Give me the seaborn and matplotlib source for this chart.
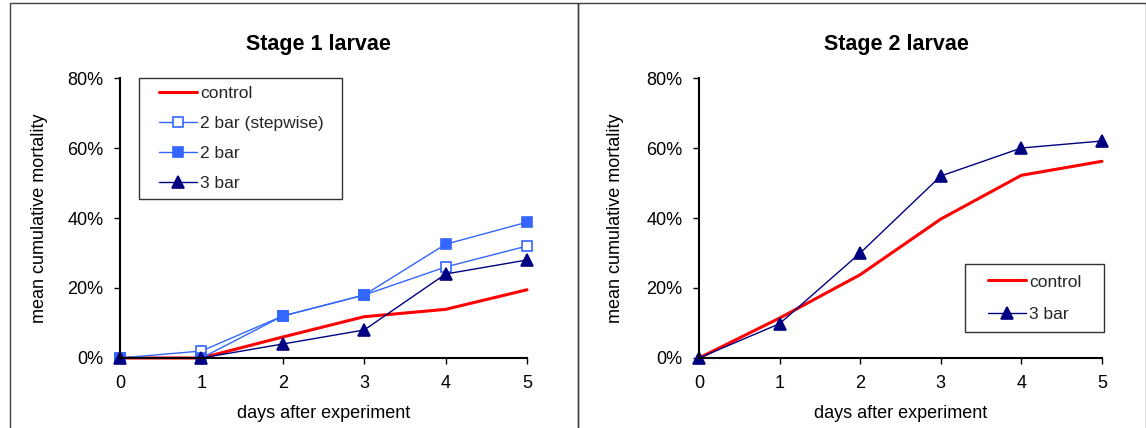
import matplotlib
matplotlib.use("Agg")
import matplotlib.pyplot as plt
import matplotlib.patches as mpatches
from matplotlib.lines import Line2D
from matplotlib.legend_handler import HandlerLine2D
import seaborn as sns
import pandas as pd
from matplotlib.ticker import PercentFormatter

days = [0, 1, 2, 3, 4, 5]
s1_control = [0, 0, 6, 11.8, 13.9, 19.5]
s1_2bar_step = [0, 2, 12, 18, 26, 32]
s1_2bar = [0, 0, 12, 18, 32.5, 38.8]
s1_3bar = [0, 0, 4, 8, 24, 28]
s2_control = [0, 11.4, 23.8, 39.7, 52.2, 56.2]
s2_3bar = [0, 9.8, 30, 52, 60, 62]

sns.set_theme(style="white")
plt.rcParams['font.family'] = ['Liberation Sans', 'DejaVu Sans']

W, H = 1146, 428
fig = plt.figure(figsize=(W / 100, H / 100), dpi=100)

# panel borders
for (x0, x1) in [(10, 578), (578, 1146)]:
    fig.patches.append(mpatches.Rectangle((x0 / W, -0.01), (x1 - x0) / W, (H - 3) / H + 0.01,
                                          transform=fig.transFigure, fill=False,
                                          edgecolor='#404040', linewidth=1.0))

ax1 = fig.add_axes([120 / W, 1 - 358 / H, (527 - 120) / W, (358 - 78) / H])
ax2 = fig.add_axes([699 / W, 1 - 358 / H, (1102 - 699) / W, (358 - 78) / H])

RED = '#FF0000'
BLUE = '#3366FF'
NAVY = '#000080'

def series(ax, y, label, color, lw, marker=None, mfc=None, ms=8):
    df = pd.DataFrame({'day': days, 'val': y})
    sns.lineplot(data=df, x='day', y='val', ax=ax, color=color, linewidth=lw,
                 marker=marker if marker else '', markersize=ms,
                 markerfacecolor=mfc if mfc else color, markeredgecolor=color,
                 markeredgewidth=1.2, label=label, clip_on=False)

series(ax1, s1_control, 'control', RED, 2.2)
series(ax1, s1_2bar_step, '2 bar (stepwise)', BLUE, 1.0, 's', 'white', 7.5)
series(ax1, s1_2bar, '2 bar', BLUE, 1.0, 's', BLUE, 7.5)
series(ax1, s1_3bar, '3 bar', NAVY, 1.0, '^', NAVY, 8)

series(ax2, s2_control, 'control', RED, 2.2)
series(ax2, s2_3bar, '3 bar', NAVY, 1.0, '^', NAVY, 8)

FS = 13
for ax, title, tx, ylx in [(ax1, 'Stage 1 larvae', 0.4865, -0.177),
                           (ax2, 'Stage 2 larvae', 0.489, -0.186)]:
    ax.set_xlim(0, 5)
    ax.set_ylim(0, 80)
    ax.set_xticks(days)
    ax.set_yticks([0, 20, 40, 60, 80])
    ax.yaxis.set_major_formatter(PercentFormatter(decimals=0))
    for s in ['top', 'right']:
        ax.spines[s].set_visible(False)
    for s in ['left', 'bottom']:
        ax.spines[s].set_color('black')
        ax.spines[s].set_linewidth(1.5)
    ax.tick_params(axis='both', which='major', direction='out', length=4, width=1,
                   color='black', labelsize=FS, labelcolor='black', bottom=True, left=True,
                   pad=8)
    ax.set_xlabel('days after experiment', fontsize=FS, color='black')
    ax.set_ylabel('mean cumulative mortality', fontsize=FS, color='black')
    ax.xaxis.set_label_coords(0.5, -0.169)
    ax.yaxis.set_label_coords(ylx, 0.5)
    ax.set_title(title, fontsize=15.5, fontweight='bold', color='black', pad=20, x=tx)
    ax.grid(False)
    ax.set_facecolor('white')

fs_leg = 12.5
leg1 = ax1.legend(loc='upper left', bbox_to_anchor=(139 / W, 1 - 78 / H, (342 - 139) / W, 0.0),
                  bbox_transform=fig.transFigure, mode='expand', borderaxespad=0,
                  fontsize=fs_leg, frameon=True,
                  fancybox=False, edgecolor='black', borderpad=0.45, labelspacing=0.85,
                  handlelength=2.87, handletextpad=0.2,
                  handler_map={Line2D: HandlerLine2D(xpad=0.69)})
leg1.get_frame().set_linewidth(1.0)
leg2 = ax2.legend(loc='upper left', bbox_to_anchor=(965 / W, 1 - 264 / H, (1104 - 965) / W, 0.0),
                  bbox_transform=fig.transFigure, mode='expand', borderaxespad=0,
                  fontsize=fs_leg, frameon=True,
                  fancybox=False, edgecolor='black', borderpad=0.6, labelspacing=0.99,
                  handlelength=2.9, handletextpad=0.2,
                  handler_map={Line2D: HandlerLine2D(xpad=0.72)})
leg2.get_frame().set_linewidth(1.0)

fig.savefig('out.png', dpi=100, facecolor='white')
